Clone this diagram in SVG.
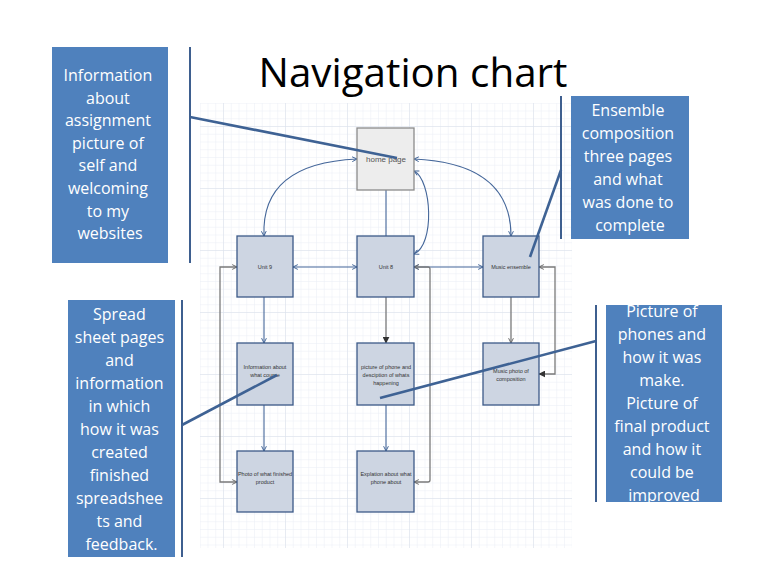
<svg xmlns="http://www.w3.org/2000/svg" width="768" height="576" viewBox="0 0 768 576">
<defs>
  <pattern id="minor" x="223" y="126" width="7.75" height="7.75" patternUnits="userSpaceOnUse">
    <path d="M0,0 V7.75 M0,0 H7.75" fill="none" stroke="#eaeef5" stroke-width="1"/>
  </pattern>
  <pattern id="major" x="223" y="126" width="62" height="62" patternUnits="userSpaceOnUse">
    <path d="M0,0 V62 M0,0 H62" fill="none" stroke="#d9dfea" stroke-width="1"/>
  </pattern>
  <marker id="ab" viewBox="0 0 10 10" refX="9" refY="5" markerWidth="6" markerHeight="6" orient="auto-start-reverse" markerUnits="userSpaceOnUse">
    <path d="M1,1 L9,5 L1,9" fill="none" stroke="#3f6294" stroke-width="1.6"/>
  </marker>
  <marker id="ag" viewBox="0 0 10 10" refX="9" refY="5" markerWidth="6" markerHeight="6" orient="auto-start-reverse" markerUnits="userSpaceOnUse">
    <path d="M1,1 L9,5 L1,9" fill="none" stroke="#666" stroke-width="1.6"/>
  </marker>
  <marker id="af" viewBox="0 0 10 10" refX="9" refY="5" markerWidth="7" markerHeight="7" orient="auto-start-reverse" markerUnits="userSpaceOnUse">
    <path d="M0,0 L10,5 L0,10 z" fill="#333"/>
  </marker>
  <clipPath id="clip4"><rect x="606" y="305" width="116" height="197"/></clipPath>
  <style>
    .node { fill: #cdd5e2; stroke: #3c5a88; stroke-width: 1.3; }
    .home { fill: #ededed; stroke: #8a8a8a; stroke-width: 1.3; }
    .nt { font-family: "Liberation Sans", Arial, sans-serif; font-size: 5.5px; fill: #333; text-anchor: middle; }
    .blue { fill: none; stroke: #45679a; stroke-width: 1.1; }
    .gray { fill: none; stroke: #7a7a7a; stroke-width: 1.3; }
    .callout { fill: #4f81bd; }
    .ct { font-family: "Open Sans", "Liberation Sans", sans-serif; font-size: 16px; fill: #ffffff; text-anchor: middle; }
    .bracket { stroke: #3e5f8f; stroke-width: 2; fill: none; }
    .pointer { stroke: #3e6294; stroke-width: 2.6; fill: none; }
  </style>
</defs>
<rect width="768" height="576" fill="#ffffff"/>

<!-- grid background -->
<rect x="200" y="103" width="372" height="445" fill="url(#minor)"/>
<rect x="200" y="103" width="372" height="445" fill="url(#major)"/>

<!-- title -->
<text x="413" y="87" font-family="Open Sans, Liberation Sans, sans-serif" font-size="40" text-anchor="middle" textLength="309" lengthAdjust="spacingAndGlyphs" fill="#000">Navigation chart</text>

<!-- connectors -->
<g id="connectors">
  <path class="blue" d="M357,159 C290,162 262,190 264,236" marker-start="url(#ab)" marker-end="url(#ab)"/>
  <path class="blue" d="M414,159 C482,162 511,190 511,236" marker-start="url(#ab)" marker-end="url(#ab)"/>
  <path class="blue" d="M386,190 V236"/>
  <path class="blue" d="M414,171 C432,180 435,245 414,254" marker-start="url(#ab)" marker-end="url(#ab)"/>
  <path class="blue" d="M293,267 H357" marker-start="url(#ab)" marker-end="url(#ab)"/>
  <path class="blue" d="M414,267 H483" marker-start="url(#ab)" marker-end="url(#ab)"/>
  <path class="gray" d="M237,267 H220 V482 H237" marker-start="url(#ag)" marker-end="url(#ag)"/>
  <path class="gray" d="M414,267 H428 Q430,267 430,269 V480 Q430,482 428,482 H414" marker-start="url(#ag)" marker-end="url(#ag)"/>
  <path class="gray" d="M539,267 H555 V374 H539" marker-start="url(#ag)" marker-end="url(#af)"/>
  <path class="blue" d="M264,297 V343" marker-end="url(#ab)"/>
  <path class="blue" d="M264,405 V451" marker-end="url(#ab)"/>
  <path class="gray" d="M386,297 V343" stroke="#444" marker-end="url(#af)"/>
  <path class="blue" d="M386,405 V451" marker-end="url(#ab)"/>
  <path class="gray" d="M511,297 V343" marker-end="url(#ag)"/>
</g>

<!-- nodes -->
<g id="home">
  <rect class="home" x="357" y="128" width="57" height="62"/>
  <text x="386" y="162" font-family="Liberation Sans, Arial, sans-serif" font-size="8" fill="#555" text-anchor="middle">home page</text>
</g>
<g id="unit9">
  <rect class="node" x="237" y="236" width="56" height="61"/>
  <text class="nt" x="265" y="269">Unit 9</text>
</g>
<g id="unit8">
  <rect class="node" x="357" y="236" width="57" height="61"/>
  <text class="nt" x="386" y="269">Unit 8</text>
</g>
<g id="music">
  <rect class="node" x="483" y="236" width="56" height="61"/>
  <text class="nt" x="511" y="269">Music ensemble</text>
</g>
<g id="info">
  <rect class="node" x="237" y="343" width="56" height="62"/>
  <text class="nt" x="265" y="369">Information about</text>
  <text class="nt" x="265" y="377">what course</text>
</g>
<g id="picture">
  <rect class="node" x="357" y="343" width="57" height="62"/>
  <text class="nt" x="386" y="369">picture of phone and</text>
  <text class="nt" x="386" y="377">desciption of whats</text>
  <text class="nt" x="386" y="385">happening</text>
</g>
<g id="musicphoto">
  <rect class="node" x="483" y="343" width="56" height="62"/>
  <text class="nt" x="511" y="373">Music photo of</text>
  <text class="nt" x="511" y="381">composition</text>
</g>
<g id="photo">
  <rect class="node" x="237" y="451" width="56" height="61"/>
  <text class="nt" x="265" y="476">Photo of what finished</text>
  <text class="nt" x="265" y="484">product</text>
</g>
<g id="explanation">
  <rect class="node" x="357" y="451" width="57" height="61"/>
  <text class="nt" x="386" y="476">Explation about what</text>
  <text class="nt" x="386" y="484">phone about</text>
</g>

<!-- callout 1 -->
<g id="callout1">
  <rect class="callout" x="52" y="47" width="116" height="216"/>
  <text class="ct">
    <tspan x="110" y="81">Information</tspan>
    <tspan x="110" y="103.6">about</tspan>
    <tspan x="110" y="126.2">assignment</tspan>
    <tspan x="110" y="148.8">picture of</tspan>
    <tspan x="110" y="171.4">self and</tspan>
    <tspan x="110" y="194">welcoming</tspan>
    <tspan x="110" y="216.6">to my</tspan>
    <tspan x="110" y="239.2">websites</tspan>
  </text>
  <path class="bracket" d="M190,47 V263"/>
  <path class="pointer" d="M190,117 L397,158"/>
</g>

<!-- callout 2 -->
<g id="callout2">
  <rect class="callout" x="571" y="96" width="118" height="143"/>
  <text class="ct">
    <tspan x="630" y="116">Ensemble</tspan>
    <tspan x="630" y="139">composition</tspan>
    <tspan x="630" y="162">three pages</tspan>
    <tspan x="630" y="185">and what</tspan>
    <tspan x="630" y="208">was done to</tspan>
    <tspan x="630" y="231">complete</tspan>
  </text>
  <path class="bracket" d="M561,96 V239"/>
  <path class="pointer" d="M561,170 L530,257"/>
</g>

<!-- callout 3 -->
<g id="callout3">
  <rect class="callout" x="68" y="300" width="107" height="257"/>
  <text class="ct">
    <tspan x="121.5" y="320">Spread</tspan>
    <tspan x="121.5" y="343">sheet pages</tspan>
    <tspan x="121.5" y="366">and</tspan>
    <tspan x="121.5" y="389">information</tspan>
    <tspan x="121.5" y="412">in which</tspan>
    <tspan x="121.5" y="435">how it was</tspan>
    <tspan x="121.5" y="458">created</tspan>
    <tspan x="121.5" y="481">finished</tspan>
    <tspan x="121.5" y="504">spreadshee</tspan>
    <tspan x="121.5" y="527">ts and</tspan>
    <tspan x="121.5" y="550">feedback.</tspan>
  </text>
  <path class="bracket" d="M182,300 V557"/>
  <path class="pointer" d="M182,425 L277,375"/>
</g>

<!-- callout 4 -->
<g id="callout4">
  <rect class="callout" x="606" y="305" width="116" height="197"/>
  <text class="ct" clip-path="url(#clip4)">
    <tspan x="664" y="317">Picture of</tspan>
    <tspan x="664" y="340">phones and</tspan>
    <tspan x="664" y="363">how it was</tspan>
    <tspan x="664" y="386">make.</tspan>
    <tspan x="664" y="409">Picture of</tspan>
    <tspan x="664" y="432">final product</tspan>
    <tspan x="664" y="455">and how it</tspan>
    <tspan x="664" y="478">could be</tspan>
    <tspan x="664" y="501">improved</tspan>
  </text>
  <path class="bracket" d="M596,305 V502"/>
  <path class="pointer" d="M596,341 L380,398"/>
</g>
</svg>
